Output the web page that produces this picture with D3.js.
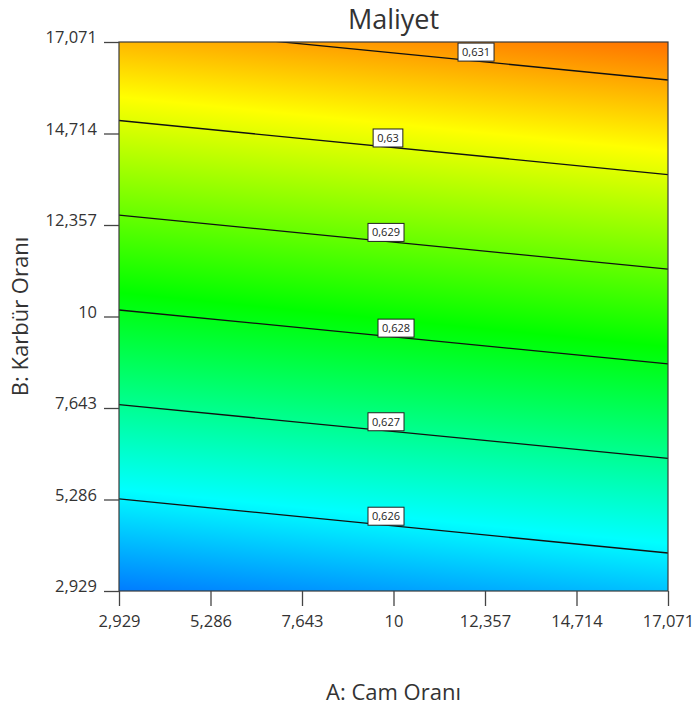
<!DOCTYPE html>
<html>
<head>
<meta charset="utf-8">
<script src="https://cdn.jsdelivr.net/npm/d3@7"></script>
<style>
  body { margin: 0; background: #fff; }
  text { font-family: "Open Sans", "Noto Sans", sans-serif; fill: #333; }
</style>
</head>
<body>
<div id="my_dataviz"></div>
<script>
// axis ticks (same for A and B)
const tickValues = [2.929, 5.286, 7.643, 10, 12.357, 14.714, 17.071];
const tickLabels = ["2,929", "5,286", "7,643", "10", "12,357", "14,714", "17,071"];

// contour levels: B where each line meets A = min and A = max
const levels = [0.626, 0.627, 0.628, 0.629, 0.63, 0.631];
const levelLabels = ["0,626", "0,627", "0,628", "0,629", "0,63", "0,631"];
const bAtAMin = [5.301, 7.731, 10.168, 12.612, 15.049, 17.486];
const bAtAMax = [3.908, 6.345, 8.782, 11.219, 13.656, 16.092];
const labelA = [9.807, 9.807, 10.065, 9.807, 9.858, 12.126];

// colour ramp, by response value
const colorValues = [0.62402, 0.6261, 0.62818, 0.63025, 0.63232];
const colorHex = ["#0000ff", "#00ffff", "#00ff00", "#ffff00", "#ff0000"];

const W = 695, H = 713;
const margin = { top: 42, right: 27, bottom: 122, left: 119 };
const width = W - margin.left - margin.right,
  height = H - margin.top - margin.bottom;

const svg = d3.select("#my_dataviz")
  .append("svg")
  .attr("width", W)
  .attr("height", H);

const g = svg.append("g")
  .attr("transform", "translate(" + margin.left + "," + margin.top + ")");

const x = d3.scaleLinear().domain([2.929, 17.071]).range([0, width]);
const y = d3.scaleLinear().domain([2.929, 17.071]).range([height, 0]);

// gradient perpendicular to contour lines
const p0 = [x(2.929), y(bAtAMin[0])];
const p0b = [x(17.071), y(bAtAMax[0])];
let dx = p0b[0] - p0[0], dy = p0b[1] - p0[1];
const len = Math.hypot(dx, dy);
let n = [dy / len, -dx / len];
const pl = [x(2.929), y(bAtAMin[levels.length - 1])];
let sLast = (pl[0] - p0[0]) * n[0] + (pl[1] - p0[1]) * n[1];
if (sLast < 0) { n = [-n[0], -n[1]]; sLast = -sLast; }
const k = sLast / (levels[levels.length - 1] - levels[0]);
const v0 = colorValues[0], v1 = colorValues[colorValues.length - 1];
const s0 = (v0 - levels[0]) * k, s1 = (v1 - levels[0]) * k;

const defs = svg.append("defs");
const grad = defs.append("linearGradient")
  .attr("id", "fill")
  .attr("gradientUnits", "userSpaceOnUse")
  .attr("x1", p0[0] + n[0] * s0).attr("y1", p0[1] + n[1] * s0)
  .attr("x2", p0[0] + n[0] * s1).attr("y2", p0[1] + n[1] * s1);
colorValues.forEach(function (v, i) {
  grad.append("stop")
    .attr("offset", (v - v0) / (v1 - v0))
    .attr("stop-color", colorHex[i]);
});

defs.append("clipPath").attr("id", "clip")
  .append("rect").attr("width", width).attr("height", height);

g.append("rect")
  .attr("width", width)
  .attr("height", height)
  .attr("fill", "url(#fill)");

// contour lines
const lineGroup = g.append("g").attr("clip-path", "url(#clip)");
levels.forEach(function (lv, i) {
  lineGroup.append("line")
    .attr("x1", x(2.929)).attr("y1", y(bAtAMin[i]))
    .attr("x2", x(17.071)).attr("y2", y(bAtAMax[i]))
    .attr("stroke", "#111")
    .attr("stroke-width", 1.3);
});

// contour labels: box sits on the line
levels.forEach(function (lv, i) {
  const a = labelA[i];
  const t = (a - 2.929) / (17.071 - 2.929);
  const b = bAtAMin[i] + (bAtAMax[i] - bAtAMin[i]) * t;
  const cx = x(a), cy = y(b);
  const lab = g.append("g");
  const txt = lab.append("text")
    .attr("x", cx)
    .attr("y", cy - 5)
    .attr("text-anchor", "middle")
    .style("font-size", "11px")
    .style("fill", "#222")
    .text(levelLabels[i]);
  const bb = txt.node().getBBox();
  lab.insert("rect", "text")
    .attr("x", cx - bb.width / 2 - 4)
    .attr("y", cy - 18)
    .attr("width", bb.width + 8)
    .attr("height", 18)
    .attr("fill", "#fff")
    .attr("stroke", "#222")
    .attr("stroke-width", 1);
});

// border
g.append("rect")
  .attr("width", width)
  .attr("height", height)
  .attr("fill", "none")
  .attr("stroke", "#3a3a3a")
  .attr("stroke-width", 1.2);

// axes
const xAxis = g.append("g")
  .attr("transform", "translate(0," + height + ")")
  .call(d3.axisBottom(x).tickValues(tickValues).tickSize(15).tickPadding(9)
    .tickFormat(function (d, i) { return tickLabels[i]; }));
const yAxis = g.append("g")
  .call(d3.axisLeft(y).tickValues(tickValues).tickSize(15).tickPadding(7)
    .tickFormat(function (d, i) { return tickLabels[i]; }));
[xAxis, yAxis].forEach(function (ax) {
  ax.select(".domain").remove();
  ax.selectAll(".tick line").attr("stroke", "#444").attr("stroke-width", 1.3);
  ax.selectAll(".tick text")
    .style("font-size", "16.5px")
    .style("font-family", "'Open Sans', sans-serif")
    .attr("fill", "#333");
});
yAxis.selectAll(".tick text").attr("dy", "0.05em");

// titles
svg.append("text")
  .attr("x", margin.left + width / 2)
  .attr("y", 29)
  .attr("text-anchor", "middle")
  .style("font-size", "27px")
  .text("Maliyet");

svg.append("text")
  .attr("x", margin.left + width / 2)
  .attr("y", 700)
  .attr("text-anchor", "middle")
  .style("font-size", "22px")
  .text("A: Cam Oranı");

svg.append("text")
  .attr("transform", "translate(28," + (margin.top + height / 2) + ") rotate(-90)")
  .attr("text-anchor", "middle")
  .style("font-size", "22px")
  .text("B: Karbür Oranı");
</script>
</body>
</html>
